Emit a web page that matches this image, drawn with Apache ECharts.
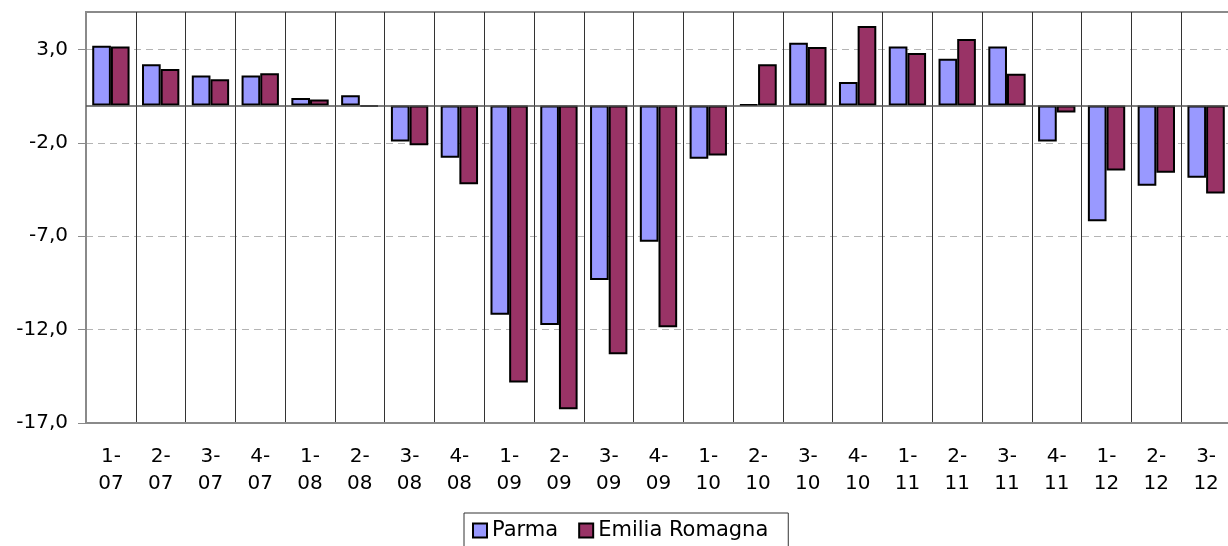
<!DOCTYPE html>
<html>
<head>
<meta charset="utf-8">
<title>Parma / Emilia Romagna</title>
<script src="https://cdn.jsdelivr.net/npm/echarts@6/dist/echarts.min.js"></script>
<style>
  html, body { margin: 0; padding: 0; background: #fff; }
  #chart { width: 1228px; height: 546px; }
</style>
</head>
<body>
<div id="chart"></div>
<script>
// trimestre-anno
const quarters = [
  '1-\n07', '2-\n07', '3-\n07', '4-\n07',
  '1-\n08', '2-\n08', '3-\n08', '4-\n08',
  '1-\n09', '2-\n09', '3-\n09', '4-\n09',
  '1-\n10', '2-\n10', '3-\n10', '4-\n10',
  '1-\n11', '2-\n11', '3-\n11', '4-\n11',
  '1-\n12', '2-\n12', '3-\n12'
]

const parma = [
  3.2, 2.2, 1.6, 1.6,
  0.4, 0.55, -1.93, -2.8,
  -11.2, -11.75, -9.35, -7.3,
  -2.85, 0.05, 3.35, 1.25,
  3.15, 2.5, 3.15, -1.93,
  -6.2, -4.3, -3.87
]

const emiliaRomagna = [
  3.15, 1.95, 1.4, 1.72,
  0.32, -0.05, -2.13, -4.22,
  -14.83, -16.27, -13.32, -11.87,
  -2.68, 2.2, 3.13, 4.25,
  2.8, 3.55, 1.7, -0.38,
  -3.48, -3.6, -4.72
]

const yTicks = [-17, -12, -7, -2, 3]

const font = 'DejaVu Sans'
const chart = echarts.init(document.getElementById('chart'))

chart.setOption({
  animation: false,
  grid: {
    left: 86, right: -3, top: 12, bottom: 123,
    outerBoundsMode: 'none',
    show: true, borderColor: '#8a8a8a', borderWidth: 2
  },
  legend: {
    data: ['Parma', 'Emilia Romagna'],
    left: 464, top: 513,
    itemWidth: 14, itemHeight: 14, itemGap: 20,
    icon: 'rect',
    padding: [7, 20, 7, 8],
    borderColor: '#333', borderWidth: 1,
    textStyle: {fontFamily: font, fontSize: 21, color: '#000'}
  },
  xAxis: {
    type: 'category',
    data: quarters,
    axisLine: {onZero: false, lineStyle: {color: '#8a8a8a', width: 2}},
    axisTick: {show: false},
    axisLabel: {
      interval: 0, margin: 20, lineHeight: 27,
      fontFamily: font, fontSize: 20, color: '#000'
    },
    splitLine: {show: true, interval: 0, lineStyle: {color: '#333', width: 1}}
  },
  yAxis: {
    type: 'value',
    min: -17, max: 5, interval: 5,
    axisLine: {show: true, lineStyle: {color: '#8a8a8a', width: 1}},
    axisTick: {show: true, length: 8, customValues: yTicks, lineStyle: {color: '#8a8a8a'}},
    axisLabel: {
      margin: 18, customValues: yTicks,
      fontFamily: font, fontSize: 20, color: '#000',
      formatter: v => v.toFixed(1).replace('.', ',')
    },
    splitLine: {lineStyle: {color: '#b4b4b4', type: [7, 5]}}
  },
  series: [
    {
      name: 'Parma',
      type: 'bar',
      data: parma,
      barGap: '0%',
      barCategoryGap: '25%',
      itemStyle: {color: '#9999ff', borderColor: '#000', borderWidth: 2},
      markLine: {
        silent: true, symbol: 'none', label: {show: false},
        lineStyle: {color: '#555', type: 'solid', width: 1.5},
        data: [{yAxis: 0}]
      }
    },
    {
      name: 'Emilia Romagna',
      type: 'bar',
      data: emiliaRomagna,
      barGap: '0%',
      barCategoryGap: '25%',
      itemStyle: {color: '#993366', borderColor: '#000', borderWidth: 2}
    }
  ]
})

window.addEventListener('resize', () => chart.resize())
</script>
</body>
</html>
